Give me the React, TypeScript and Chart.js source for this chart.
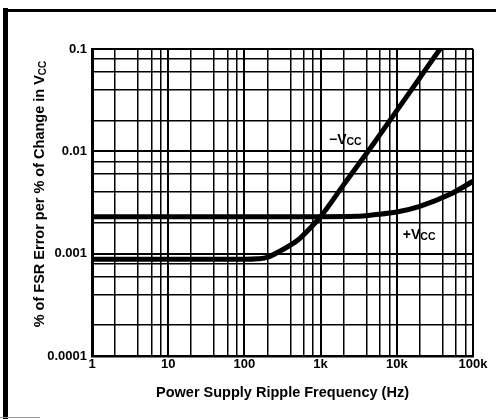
import React, { useEffect, useRef } from "react";
import { Chart, registerables } from "chart.js";

Chart.register(...registerables);

// Data
const minusVccFreq = [1, 100, 150, 200, 300, 500, 700, 1000, 2000, 5000, 10000, 20000, 37000, 42000];
const minusVccValue = [0.00088, 0.00088, 0.00089, 0.00092, 0.00107, 0.00135, 0.00172, 0.0023, 0.0047, 0.012, 0.025, 0.052, 0.1, 0.113];
const plusVccFreq = [1, 1000, 3000, 5000, 10000, 20000, 50000, 100000];
const plusVccValue = [0.0023, 0.0023, 0.00232, 0.0024, 0.00255, 0.0029, 0.0038, 0.0051];

const xTickValues = [1, 10, 100, 1000, 10000, 100000];
const xTickLabels = ["1", "10", "100", "1k", "10k", "100k"];
const yTickValues = [0.0001, 0.001, 0.01, 0.1];
const yTickLabels = ["0.0001", "0.001", "0.01", "0.1"];
const minorMantissas = [2, 4, 6, 8];

const xTitle = "Power Supply Ripple Frequency (Hz)";
const yTitleMain = "% of FSR Error per % of Change in V";
const yTitleSub = "CC";
const curveLabels = [
  { main: "\u2212V", sub: "CC", freq: 1290, value: 0.0117 },
  { main: "+V", sub: "CC", freq: 12000, value: 0.0014 },
];

const FONT = '"Liberation Sans", Arial, Helvetica, sans-serif';

function gridValues(decades: number[]) {
  const out: { value: number; major: boolean }[] = [];
  decades.forEach((d, i) => {
    out.push({ value: d, major: true });
    if (i < decades.length - 1) minorMantissas.forEach((m) => out.push({ value: d * m, major: false }));
  });
  return out;
}

const decorPlugin = {
  id: "decor",
  beforeDraw(chart: any) {
    const ctx = chart.ctx;
    ctx.save();
    ctx.fillStyle = "#fff";
    ctx.fillRect(0, 0, chart.width, chart.height);
    ctx.fillStyle = "#000";
    ctx.fillRect(3, 8, 5, 411);
    ctx.fillRect(3, 9, chart.width - 3, 3);
    ctx.fillStyle = "#999";
    ctx.fillRect(0, 417, 40, 1);
    ctx.restore();
  },
  afterDraw(chart: any) {
    const ctx = chart.ctx;
    const xs = chart.scales.x;
    const ys = chart.scales.y;
    const area = chart.chartArea;
    ctx.save();
    ctx.fillStyle = "#000";
    // x title
    ctx.font = `bold 14.5px ${FONT}`;
    ctx.textAlign = "center";
    ctx.textBaseline = "alphabetic";
    ctx.fillText(xTitle, (area.left + area.right) / 2, 397);
    // y title (rotated, with subscript)
    const mainFont = `bold 14.5px ${FONT}`;
    const subFont = `bold 10px ${FONT}`;
    ctx.font = mainFont;
    const wMain = ctx.measureText(yTitleMain).width;
    ctx.font = subFont;
    const wSub = ctx.measureText(yTitleSub).width;
    const total = wMain + wSub;
    ctx.translate(44, 194);
    ctx.rotate(-Math.PI / 2);
    ctx.textAlign = "left";
    ctx.font = mainFont;
    ctx.fillText(yTitleMain, -total / 2, 0);
    ctx.font = subFont;
    ctx.fillText(yTitleSub, -total / 2 + wMain, 2);
    ctx.setTransform(1, 0, 0, 1, 0, 0);
    // curve labels
    curveLabels.forEach((l) => {
      const px = xs.getPixelForValue(l.freq);
      const py = ys.getPixelForValue(l.value);
      ctx.font = `bold 14px ${FONT}`;
      ctx.textAlign = "left";
      ctx.fillText(l.main, px, py);
      const w = ctx.measureText(l.main).width;
      ctx.font = `bold 10.5px ${FONT}`;
      ctx.fillText(l.sub, px + w, py + 1);
    });
    ctx.restore();
  },
};

export default function App() {
  const ref = useRef<HTMLCanvasElement | null>(null);
  useEffect(() => {
    document.body.style.margin = "0";
    if (!ref.current) return;
    const xGrid = gridValues(xTickValues);
    const yGrid = gridValues(yTickValues);
    const chart = new Chart(ref.current, {
      type: "line",
      data: {
        datasets: [
          {
            label: "-Vcc",
            data: minusVccFreq.map((f, i) => ({ x: f, y: minusVccValue[i] })),
            borderColor: "#000",
            borderWidth: 5,
            pointRadius: 0,
            cubicInterpolationMode: "monotone",
            clip: 0,
            fill: false,
          },
          {
            label: "+Vcc",
            data: plusVccFreq.map((f, i) => ({ x: f, y: plusVccValue[i] })),
            borderColor: "#000",
            borderWidth: 5,
            pointRadius: 0,
            cubicInterpolationMode: "monotone",
            clip: 0,
            fill: false,
          },
        ],
      },
      plugins: [decorPlugin],
      options: {
        responsive: false,
        animation: false,
        layout: { padding: { left: 0, right: 23, top: 49, bottom: 0 } },
        plugins: { legend: { display: false }, tooltip: { enabled: false }, title: { display: false } },
        scales: {
          x: {
            type: "logarithmic",
            min: 1,
            max: 100000,
            afterBuildTicks: (s: any) => {
              s.ticks = xGrid.map((g) => ({ value: g.value, major: g.major }));
            },
            afterFit: (s: any) => {
              s.height = 63;
            },
            grid: {
              color: "#000",
              lineWidth: (c: any) => (c.tick && c.tick.major ? 2 : 1.5),
              drawTicks: false,
            },
            border: { display: true, color: "#000", width: 2.5 },
            ticks: {
              autoSkip: false,
              maxRotation: 0,
              padding: 1,
              color: "#000",
              font: { family: FONT, size: 13, weight: "bold" },
              callback: (v: any) => {
                const i = xTickValues.indexOf(Number(v));
                return i >= 0 ? xTickLabels[i] : "";
              },
            },
          },
          y: {
            type: "logarithmic",
            min: 0.0001,
            max: 0.1,
            afterBuildTicks: (s: any) => {
              s.ticks = yGrid.map((g) => ({ value: g.value, major: g.major }));
            },
            afterFit: (s: any) => {
              s.width = 92;
            },
            grid: {
              color: "#000",
              lineWidth: (c: any) => (c.tick && c.tick.major ? 2 : 1.5),
              drawTicks: false,
            },
            border: { display: true, color: "#000", width: 3 },
            ticks: {
              autoSkip: false,
              padding: 5,
              color: "#000",
              font: { family: FONT, size: 13, weight: "bold" },
              callback: (v: any) => {
                const n = Number(v);
                const i = yTickValues.findIndex((t) => Math.abs(t - n) / t < 1e-6);
                return i >= 0 ? yTickLabels[i] : "";
              },
            },
          },
        },
      },
    } as any);
    return () => chart.destroy();
  }, []);
  return (
    <div style={{ position: "absolute", left: 0, top: 0, width: 496, height: 419 }}>
      <canvas ref={ref} width={496} height={419} />
    </div>
  );
}
